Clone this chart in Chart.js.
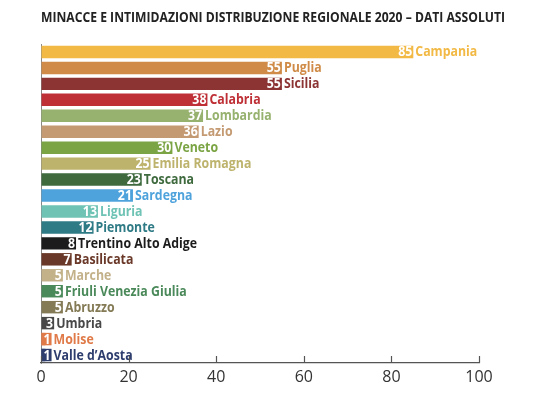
<!DOCTYPE html>
<html><head><meta charset="utf-8">
<script src="https://cdn.jsdelivr.net/npm/chart.js@4/dist/chart.umd.min.js"></script>
<style>html,body{margin:0;padding:0;background:#fff}#wrap{width:540px;height:396px}</style>
</head><body><div id="wrap"><canvas id="c" width="540" height="396"></canvas></div>
<script>
const TITLE = 'MINACCE E INTIMIDAZIONI DISTRIBUZIONE REGIONALE 2020 – DATI ASSOLUTI';
const regions = ['Campania','Puglia','Sicilia','Calabria','Lombardia','Lazio','Veneto','Emilia Romagna','Toscana','Sardegna','Liguria','Piemonte','Trentino Alto Adige','Basilicata','Marche','Friuli Venezia Giulia','Abruzzo','Umbria','Molise',"Valle d’Aosta"];
const values = [85,55,55,38,37,36,30,25,23,21,13,12,8,7,5,5,5,3,1,1];
const colors = ['#F2B945','#CF8B47','#8C3333','#BE3036','#97B26F','#C49A72','#7BA444','#BDB36D','#3E6A3E','#4FA3DC','#6FC3B5','#2E7A85','#1C1C1C','#6A3828','#C3B18A','#4A8959','#847A55','#484848','#E07A48','#2D3D6E'];
const xTicks = [0,20,40,60,80,100];

const FONT = '"Open Sans","DejaVu Sans",sans-serif';

function drawScaled(ctx, txt, x, y, sx, align) {
  const w = ctx.measureText(txt).width * sx;
  const left = align === 'right' ? x - w : x;
  ctx.save();
  ctx.translate(left, y);
  ctx.scale(sx, 1);
  ctx.textAlign = 'left';
  ctx.fillText(txt, 0, 0);
  ctx.restore();
  return w;
}

const labelPlugin = {
  id: 'labels',
  afterDatasetsDraw(chart) {
    const ctx = chart.ctx;
    const meta = chart.getDatasetMeta(0);
    ctx.save();
    ctx.font = 'bold 14px ' + FONT;
    ctx.textBaseline = 'middle';
    const sx = 62 / ctx.measureText('Campania').width;
    meta.data.forEach((bar, i) => {
      const p = bar.getProps(['x','y','base','height'], true);
      const txt = String(values[i]);
      const w = ctx.measureText(txt).width * sx;
      let end = p.x;
      if (end - p.base < w + 3) {
        end = p.base + w + 3;
        ctx.fillStyle = colors[i];
        ctx.fillRect(p.base, p.y - p.height/2, end - p.base, p.height);
      }
      ctx.fillStyle = '#fff';
      drawScaled(ctx, txt, end - 1, p.y + 0.5, sx, 'right');
      ctx.fillStyle = colors[i];
      drawScaled(ctx, regions[i], end + 2, p.y + 0.5, sx, 'left');
    });
    ctx.restore();
  },
  afterDraw(chart) {
    const ctx = chart.ctx;
    const xs = chart.scales.x, ca = chart.chartArea;
    ctx.save();
    ctx.strokeStyle = '#555';
    ctx.lineWidth = 1.2;
    xs.ticks.forEach(t => {
      const px = Math.round(xs.getPixelForValue(t.value)) + 0.5;
      ctx.beginPath(); ctx.moveTo(px, ca.bottom); ctx.lineTo(px, ca.bottom - 7); ctx.stroke();
    });
    ctx.fillStyle = '#222';
    ctx.font = 'bold 15px ' + FONT;
    ctx.textBaseline = 'middle';
    const sx = 464 / ctx.measureText(TITLE).width;
    drawScaled(ctx, TITLE, 41, 18, sx, 'left');
    ctx.restore();
  }
};

new Chart(document.getElementById('c'), {
  type: 'bar',
  data: { labels: regions, datasets: [{ data: values, backgroundColor: colors, borderWidth: 0, barPercentage: 0.78, categoryPercentage: 1 }] },
  options: {
    indexAxis: 'y', responsive: false, animation: false,
    layout: { padding: { left: 41, right: 61, top: 44, bottom: 0 } },
    plugins: { legend: { display: false }, tooltip: { enabled: false }, title: { display: false } },
    scales: {
      x: {
        min: 0, max: 100,
        afterBuildTicks: s => { s.ticks = xTicks.map(v => ({ value: v })); },
        grid: { display: true, drawOnChartArea: false, drawTicks: false },
        border: { display: true, color: '#555', width: 1.3 },
        ticks: { color: '#333', padding: 5, font: { family: '"Open Sans",sans-serif', size: 16 } },
        afterFit: s => { s.height = 33; }
      },
      y: {
        grid: { display: false, drawTicks: false },
        border: { display: true, color: '#888', width: 1 },
        ticks: { display: false },
        afterFit: s => { s.width = 0; }
      }
    }
  },
  plugins: [labelPlugin]
});
</script></body></html>
